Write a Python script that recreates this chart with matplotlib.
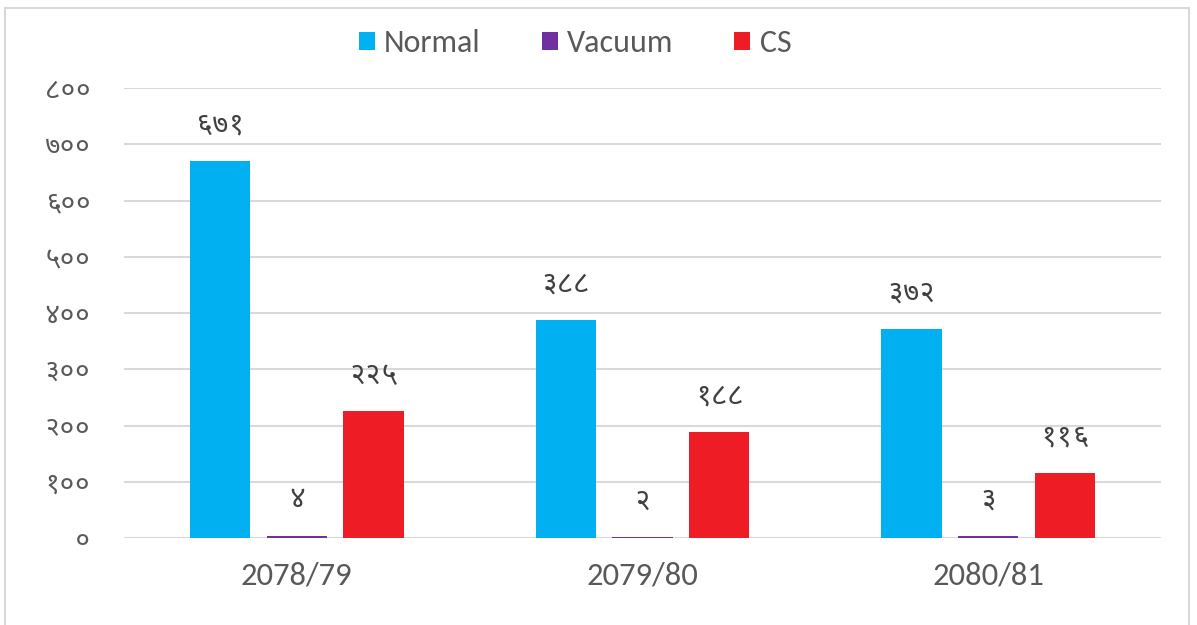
import matplotlib
matplotlib.use("Agg")
import matplotlib.pyplot as plt
from matplotlib import font_manager as fm
from matplotlib.patches import Rectangle
import numpy as np
import os

categories = ["2078/79", "2079/80", "2080/81"]
series_names = ["Normal", "Vacuum", "CS"]
normal = [671, 388, 372]
vacuum = [4, 2, 3]
cs = [225, 188, 116]
yticks = [0, 100, 200, 300, 400, 500, 600, 700, 800]
colors = ["#00B0F0", "#7030A0", "#EE1C25"]

DEV = str.maketrans("0123456789", "०१२३४५६७८९")
def dev(n):
    return str(n).translate(DEV)

# fonts
files = fm.findSystemFonts()
def pick(names):
    for n in names:
        for f in files:
            if os.path.basename(f) == n:
                return f
    return None

dev_file = pick(["NotoSansDevanagari-Regular.ttf", "NotoSansDevanagariUI-Regular.ttf",
                 "NotoSansDevanagari[wdth,wght].ttf", "Hind-Regular.ttf", "Mukta-Regular.ttf"])
lat_file = pick(["Carlito-Regular.ttf", "Lato-Regular.ttf"])
dev_family = "DejaVu Sans"
lat_family = "DejaVu Sans"
if dev_file:
    fm.fontManager.addfont(dev_file)
    dev_family = fm.FontProperties(fname=dev_file).get_name()
if lat_file:
    fm.fontManager.addfont(lat_file)
    lat_family = fm.FontProperties(fname=lat_file).get_name()

plt.rcParams["font.family"] = [lat_family, dev_family, "DejaVu Sans"]
text_color = "#595959"

fig = plt.figure(figsize=(11.97, 6.25), dpi=100)
ax = fig.add_axes([124 / 1197, 1 - 538 / 625, (1161 - 124) / 1197, (538 - 88) / 625])

x = np.arange(len(categories))
width = 0.174
step = 0.222
series = [normal, vacuum, cs]
for i, (name, vals, c) in enumerate(zip(series_names, series, colors)):
    pos = x + (i - 1) * step
    bars = ax.bar(pos, vals, width, color=c, label=name, zorder=3)
    for b, v in zip(bars, vals):
        ax.annotate(dev(v), (b.get_x() + b.get_width() / 2, v), xytext=(0, 26),
                    textcoords="offset points", ha="center", va="center",
                    fontsize=21, color="#404040", family=[dev_family, lat_family])

ax.set_xlim(-0.5, 2.5)
ax.set_ylim(0, 800)
ax.set_yticks(yticks)
ax.set_yticklabels([dev(v) for v in yticks], family=[dev_family, lat_family],
                   fontsize=20, color=text_color)
ax.set_xticks(x)
ax.set_xticklabels(categories, fontsize=23.5, color=text_color)
ax.tick_params(axis="both", length=0)
ax.tick_params(axis="y", pad=24)
ax.tick_params(axis="x", pad=17)
ax.grid(axis="y", color="#D9D9D9", linewidth=1.5, zorder=0)
for s in ax.spines.values():
    s.set_visible(False)

leg = fig.legend(loc="center", bbox_to_anchor=(575 / 1197, 1 - 43 / 625), ncol=3,
                 frameon=False, fontsize=23, handlelength=0.5, handleheight=0.5,
                 handletextpad=0.3, columnspacing=1.9)
for t in leg.get_texts():
    t.set_color(text_color)

fig.patches.append(Rectangle((5 / 1197, -0.05), (1189 - 5) / 1197, 1.05 - 8 / 625,
                             transform=fig.transFigure, fill=False,
                             edgecolor="#D9D9D9", linewidth=1.5))

fig.savefig("out.png", dpi=100)
